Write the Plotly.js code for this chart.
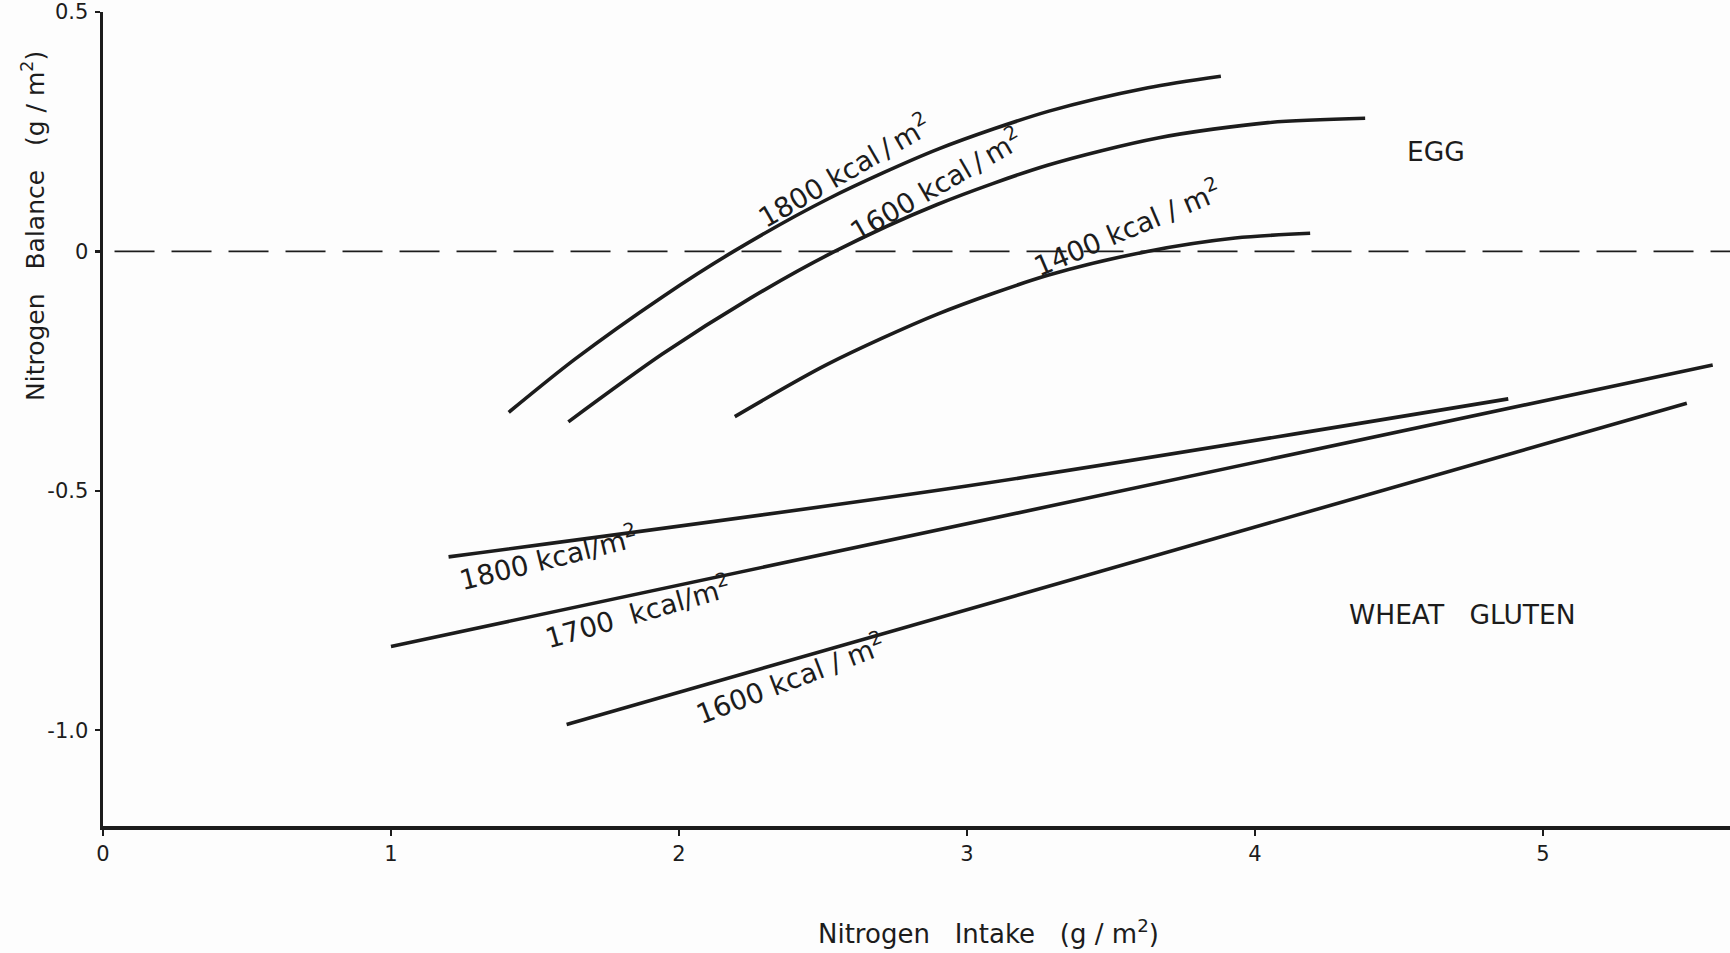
<!DOCTYPE html>
<html>
<head>
<meta charset="utf-8">
<script src="https://cdn.plot.ly/plotly-3.0.1.min.js"></script>
<style>html,body{margin:0;padding:0;background:#fdfdfd;}#chart{width:1730px;height:953px;}</style>
</head>
<body>
<div id="chart"></div>
<script>
// Egg curves (Nitrogen intake, Nitrogen balance)
const egg1800X = [1.409, 1.639, 1.945, 2.190, 2.519, 2.902, 3.285, 3.629, 3.882];
const egg1800Y = [-0.336, -0.225, -0.094, 0.000, 0.110, 0.214, 0.293, 0.342, 0.366];
const egg1600X = [1.616, 1.941, 2.247, 2.541, 2.897, 3.280, 3.663, 4.046, 4.383];
const egg1600Y = [-0.356, -0.215, -0.098, 0.000, 0.098, 0.180, 0.237, 0.269, 0.278];
const egg1400X = [2.194, 2.515, 2.898, 3.281, 3.626, 3.932, 4.192];
const egg1400Y = [-0.345, -0.236, -0.131, -0.050, 0.000, 0.028, 0.038];
// Wheat gluten lines
const wheat1800X = [1.20, 3.00, 4.88];
const wheat1800Y = [-0.638, -0.490, -0.308];
const wheat1700X = [1.00, 5.59];
const wheat1700Y = [-0.825, -0.237];
const wheat1600X = [1.61, 5.50];
const wheat1600Y = [-0.988, -0.317];
// zero reference line
const zeroX = [0.04, 5.65];
const zeroY = [0, 0];
// ticks
const xTickVals = [0, 1, 2, 3, 4, 5];
const xTickText = ["0", "1", "2", "3", "4", "5"];
const yTickVals = [0.5, 0, -0.5, -1.0];
const yTickText = ["0.5", "0", "-0.5", "-1.0"];
// curve labels
const NB = "\u00A0", TH = "\u2009";
const labelText = ["1800" + NB + "kcal" + TH + "/" + TH + "m<sup>2</sup>", "1600" + NB + "kcal" + TH + "/" + TH + "m<sup>2</sup>",
                   "1400 kcal" + NB + "/" + NB + "m<sup>2</sup>",
                   "1800 kcal/m<sup>2</sup>", "1700" + NB + NB + "kcal/m<sup>2</sup>", "1600 kcal" + NB + "/" + NB + "m<sup>2</sup>"];
const labelX = [2.573, 2.891, 3.557, 1.547, 1.857, 2.385];
const labelY = [0.170, 0.140, 0.050, -0.638, -0.752, -0.890];
const labelAngle = [-30, -30, -23, -14, -16, -21];
const groupNames = ["EGG", "WHEAT" + NB + NB + NB + "GLUTEN"];
const groupX = [4.629, 4.721];
const groupY = [0.209, -0.758];
const xTitle = "Nitrogen" + NB + NB + NB + "Intake" + NB + NB + NB + "(g" + NB + "/" + NB + "m<sup>2</sup>)";
const yTitle = "Nitrogen" + NB + NB + NB + "Balance" + NB + NB + NB + "(g" + NB + "/" + NB + "m<sup>2</sup>)";

const ink = '#1c1c1c';
const font = 'DejaVu Sans, sans-serif';
function curve(x, y, smooth) {
  return {x: x, y: y, mode: 'lines', type: 'scatter', hoverinfo: 'skip',
          line: {color: ink, width: 3.6, shape: smooth ? 'spline' : 'linear', smoothing: 0.8}};
}
const traces = [
  {x: zeroX, y: zeroY, mode: 'lines', type: 'scatter', hoverinfo: 'skip',
   line: {color: ink, width: 1.7, dash: '40px,17px'}},
  curve(egg1800X, egg1800Y, true),
  curve(egg1600X, egg1600Y, true),
  curve(egg1400X, egg1400Y, true),
  curve(wheat1800X, wheat1800Y, true),
  curve(wheat1700X, wheat1700Y, false),
  curve(wheat1600X, wheat1600Y, false)
];

const W = 1730, H = 953, mL = 103, mR = 0, mT = 12, mB = 127;
function px(x) { return (x - mL) / (W - mL - mR); }
function py(y) { return (H - mB - y) / (H - mT - mB); }

const annotations = [];
for (let i = 0; i < labelText.length; i++) {
  annotations.push({x: labelX[i], y: labelY[i], xref: 'x', yref: 'y', text: labelText[i],
    xanchor: 'center', yanchor: 'middle',
    showarrow: false, textangle: labelAngle[i], font: {family: font, size: 27.5, color: ink}});
}
for (let i = 0; i < groupNames.length; i++) {
  annotations.push({x: groupX[i], y: groupY[i], xref: 'x', yref: 'y', text: groupNames[i],
    xanchor: 'center', yanchor: 'middle',
    showarrow: false, font: {family: font, size: 26.5, color: ink}});
}
annotations.push({x: px(988), y: py(932), xref: 'paper', yref: 'paper', text: xTitle,
  xanchor: 'center', yanchor: 'middle',
  showarrow: false, font: {family: font, size: 26, color: ink}});
annotations.push({x: px(33), y: py(226), xref: 'paper', yref: 'paper', text: yTitle,
  xanchor: 'center', yanchor: 'middle',
  showarrow: false, textangle: -90, font: {family: font, size: 25, color: ink}});

const layout = {
  width: W, height: H,
  margin: {l: mL, r: mR, t: mT, b: mB, pad: 0},
  paper_bgcolor: '#fdfdfd', plot_bgcolor: '#fdfdfd',
  showlegend: false,
  font: {family: font, color: ink},
  xaxis: {range: [0, 5.65], tickvals: xTickVals, ticktext: xTickText, showgrid: false, zeroline: false,
          showline: true, linecolor: ink, linewidth: 3.5, ticks: 'outside', ticklen: 6, tickwidth: 2.5,
          tickcolor: ink, ticklabelstandoff: 0, tickfont: {family: font, size: 21, color: ink}, fixedrange: true},
  yaxis: {range: [-1.2, 0.5], tickvals: yTickVals, ticktext: yTickText, showgrid: false, zeroline: false,
          showline: true, linecolor: ink, linewidth: 3.5, ticks: 'outside', ticklen: 5, tickwidth: 2.5,
          tickcolor: ink, ticklabelstandoff: 2, tickfont: {family: font, size: 21, color: ink}, fixedrange: true},
  annotations: annotations
};
Plotly.newPlot('chart', traces, layout, {staticPlot: true, displayModeBar: false});
</script>
</body>
</html>
